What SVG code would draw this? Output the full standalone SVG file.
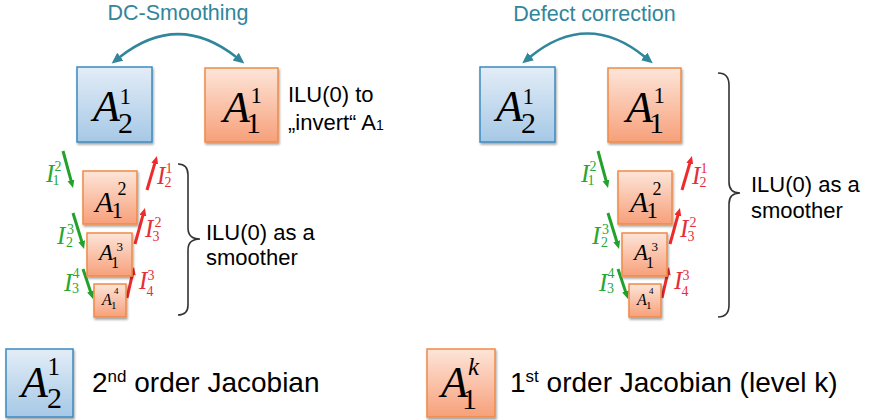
<svg xmlns="http://www.w3.org/2000/svg" width="869" height="420" viewBox="0 0 869 420">
<style>
.m{font-family:"Liberation Serif","Times New Roman",serif;fill:#000}
.i{font-style:italic}
.t{font-family:"Liberation Sans",Arial,sans-serif;fill:#000}
.teal{font-family:"Liberation Sans",Arial,sans-serif;fill:#31869b;font-size:21.5px}
.bb{fill:url(#gb);stroke:#3b8ac0;stroke-width:1.5;filter:url(#sh)}
.ob{fill:url(#go);stroke:#ef8a47;stroke-width:1.5;filter:url(#sh)}
.arc{fill:none;stroke:#31869b;stroke-width:2.5}
.ga{fill:none;stroke:#22a12b;stroke-width:3}
.ra{fill:none;stroke:#ee2a2a;stroke-width:3}
.brace{fill:none;stroke:#333;stroke-width:1.6}
.gl{fill:#2aa632}
.rl{fill:#e2303a}
</style>
<defs>
<linearGradient id="gb" x1="0" y1="0" x2="0" y2="1"><stop offset="0" stop-color="#e3edf7"/><stop offset="1" stop-color="#a6c8e6"/></linearGradient>
<linearGradient id="go" x1="0" y1="0" x2="0" y2="1"><stop offset="0" stop-color="#fde5d9"/><stop offset="1" stop-color="#f7a07a"/></linearGradient>
<filter id="sh" x="-20%" y="-20%" width="150%" height="150%"><feDropShadow dx="1" dy="2" stdDeviation="1.3" flood-color="#000" flood-opacity="0.35"/></filter>
<marker id="mt" markerUnits="userSpaceOnUse" markerWidth="12" markerHeight="11" refX="1" refY="5" orient="auto-start-reverse"><path d="M0,0 L11,5 L0,10 Z" fill="#31869b"/></marker>
<marker id="mg" markerUnits="userSpaceOnUse" markerWidth="9" markerHeight="8" refX="1" refY="3.5" orient="auto"><path d="M0,0 L8,3.5 L0,7 Z" fill="#22a12b"/></marker>
<marker id="mred" markerUnits="userSpaceOnUse" markerWidth="9" markerHeight="8" refX="1" refY="3.5" orient="auto"><path d="M0,0 L8,3.5 L0,7 Z" fill="#ee2a2a"/></marker>
</defs>
<rect width="869" height="420" fill="#fff"/>

<text class="teal" x="178" y="20" text-anchor="middle">DC-Smoothing</text>
<text class="teal" x="594.5" y="21" text-anchor="middle">Defect correction</text>

<g id="connectors">
<path class="arc" d="M119.5,57.3 Q178,11 236.5,57.3" marker-start="url(#mt)" marker-end="url(#mt)"/>
<path class="arc" d="M530,57 Q587.5,10 645,57" marker-start="url(#mt)" marker-end="url(#mt)"/>
<path class="ga" d="M63,151 L71.2,181.2" marker-end="url(#mg)"/>
<path class="ga" d="M73,213 L82,242.3" marker-end="url(#mg)"/>
<path class="ga" d="M83,269 L90.8,292.4" marker-end="url(#mg)"/>
<path class="ra" d="M147,190 L155,162.7" marker-end="url(#mred)"/>
<path class="ra" d="M135,244 L143.1,214.7" marker-end="url(#mred)"/>
<path class="ra" d="M127,298 L132.5,273.8" marker-end="url(#mred)"/>
<path class="ga" d="M598,151 L606.2,181.2" marker-end="url(#mg)"/>
<path class="ga" d="M608,213 L617,242.3" marker-end="url(#mg)"/>
<path class="ga" d="M618,269 L625.8,292.4" marker-end="url(#mg)"/>
<path class="ra" d="M682,190 L690,162.7" marker-end="url(#mred)"/>
<path class="ra" d="M670,244 L678.1,214.7" marker-end="url(#mred)"/>
<path class="ra" d="M662,298 L667.5,273.8" marker-end="url(#mred)"/>
</g>

<g id="transfer-labels">
<g id="labels-left">
<text class="m gl"><tspan class="i" x="46" y="182" font-size="25">I</tspan><tspan x="54.6" y="171" font-size="14">2</tspan><tspan x="52.5" y="185" font-size="14">1</tspan></text>
<text class="m gl"><tspan class="i" x="57" y="244" font-size="25">I</tspan><tspan x="67" y="234" font-size="14">3</tspan><tspan x="66" y="247" font-size="14">2</tspan></text>
<text class="m gl"><tspan class="i" x="64" y="291" font-size="25">I</tspan><tspan x="72.5" y="278" font-size="14">4</tspan><tspan x="72" y="293" font-size="14">3</tspan></text>
<text class="m rl"><tspan class="i" x="157" y="184" font-size="25">I</tspan><tspan x="165.5" y="173" font-size="14">1</tspan><tspan x="164.5" y="187" font-size="14">2</tspan></text>
<text class="m rl"><tspan class="i" x="145" y="237" font-size="25">I</tspan><tspan x="154.5" y="227" font-size="14">2</tspan><tspan x="152.5" y="241" font-size="14">3</tspan></text>
<text class="m rl"><tspan class="i" x="139" y="289" font-size="25">I</tspan><tspan x="147.5" y="280" font-size="14">3</tspan><tspan x="146.5" y="296" font-size="14">4</tspan></text>
</g>
<g id="labels-right" transform="translate(535,0)">
<text class="m gl"><tspan class="i" x="46" y="182" font-size="25">I</tspan><tspan x="54.6" y="171" font-size="14">2</tspan><tspan x="52.5" y="185" font-size="14">1</tspan></text>
<text class="m gl"><tspan class="i" x="57" y="244" font-size="25">I</tspan><tspan x="67" y="234" font-size="14">3</tspan><tspan x="66" y="247" font-size="14">2</tspan></text>
<text class="m gl"><tspan class="i" x="64" y="291" font-size="25">I</tspan><tspan x="72.5" y="278" font-size="14">4</tspan><tspan x="72" y="293" font-size="14">3</tspan></text>
<text class="m rl"><tspan class="i" x="157" y="184" font-size="25">I</tspan><tspan x="165.5" y="173" font-size="14">1</tspan><tspan x="164.5" y="187" font-size="14">2</tspan></text>
<text class="m rl"><tspan class="i" x="145" y="237" font-size="25">I</tspan><tspan x="154.5" y="227" font-size="14">2</tspan><tspan x="152.5" y="241" font-size="14">3</tspan></text>
<text class="m rl"><tspan class="i" x="139" y="289" font-size="25">I</tspan><tspan x="147.5" y="280" font-size="14">3</tspan><tspan x="146.5" y="296" font-size="14">4</tspan></text>
</g>
</g>

<g id="L-A2-1" transform="translate(77,67)">
<rect class="bb" width="75" height="75"/>
<text class="m"><tspan class="i" x="16" y="54" font-size="44">A</tspan><tspan x="41" y="66" font-size="30">2</tspan><tspan x="42.5" y="37" font-size="23">1</tspan></text>
</g>
<g id="L-A1-1" transform="translate(205,68)">
<rect class="ob" width="73" height="74"/>
<text class="m"><tspan class="i" x="18" y="54" font-size="44">A</tspan><tspan x="41" y="65" font-size="30">1</tspan><tspan x="45.5" y="35" font-size="23">1</tspan></text>
</g>
<g id="L-A1-2" transform="translate(83,171)">
<rect class="ob" width="54" height="53"/>
<text class="m"><tspan class="i" x="12" y="41" font-size="30">A</tspan><tspan x="28.5" y="47" font-size="23">1</tspan><tspan x="34.5" y="24" font-size="18">2</tspan></text>
</g>
<g id="L-A1-3" transform="translate(87,233)">
<rect class="ob" width="45" height="43"/>
<text class="m"><tspan class="i" x="12" y="27" font-size="23">A</tspan><tspan x="24" y="35" font-size="16">1</tspan><tspan x="29.5" y="18" font-size="13">3</tspan></text>
</g>
<g id="L-A1-4" transform="translate(94,284)">
<rect class="ob" width="32" height="33"/>
<text class="m"><tspan class="i" x="8" y="21" font-size="16">A</tspan><tspan x="17" y="25" font-size="11">1</tspan><tspan x="20" y="10" font-size="9">4</tspan></text>
</g>

<g id="R-A2-1" transform="translate(480,67)">
<rect class="bb" width="75" height="75"/>
<text class="m"><tspan class="i" x="16" y="54" font-size="44">A</tspan><tspan x="41" y="66" font-size="30">2</tspan><tspan x="42.5" y="37" font-size="23">1</tspan></text>
</g>
<g id="R-A1-1" transform="translate(608,68)">
<rect class="ob" width="73" height="74"/>
<text class="m"><tspan class="i" x="18" y="54" font-size="44">A</tspan><tspan x="41" y="65" font-size="30">1</tspan><tspan x="45.5" y="35" font-size="23">1</tspan></text>
</g>
<g id="R-A1-2" transform="translate(618,171)">
<rect class="ob" width="54" height="53"/>
<text class="m"><tspan class="i" x="12" y="41" font-size="30">A</tspan><tspan x="28.5" y="47" font-size="23">1</tspan><tspan x="34.5" y="24" font-size="18">2</tspan></text>
</g>
<g id="R-A1-3" transform="translate(622,233)">
<rect class="ob" width="45" height="43"/>
<text class="m"><tspan class="i" x="12" y="27" font-size="23">A</tspan><tspan x="24" y="35" font-size="16">1</tspan><tspan x="29.5" y="18" font-size="13">3</tspan></text>
</g>
<g id="R-A1-4" transform="translate(629,284)">
<rect class="ob" width="32" height="33"/>
<text class="m"><tspan class="i" x="8" y="21" font-size="16">A</tspan><tspan x="17" y="25" font-size="11">1</tspan><tspan x="20" y="10" font-size="9">4</tspan></text>
</g>

<g id="braces">
<path class="brace" d="M178,164 Q188,164 188,175 L188,228 Q188,239 200,239 Q188,239 188,250 L188,305 Q188,315 178,315"/>
<path class="brace" d="M718,73 Q729,73 729,85 L729,182 Q729,193 740,193 Q729,193 729,204 L729,305 Q729,317 718,317"/>
</g>

<g id="notes">
<text class="t" x="288" y="102" font-size="22">ILU(0) to</text>
<text class="t" x="288" y="130" font-size="22">„invert“ A<tspan font-size="14">1</tspan></text>
<text class="t" x="206" y="240" font-size="22">ILU(0) as a</text>
<text class="t" x="206" y="265" font-size="22">smoother</text>
<text class="t" x="751" y="192" font-size="22">ILU(0) as a</text>
<text class="t" x="751" y="218" font-size="22">smoother</text>
</g>

<g id="legend-A2" transform="translate(6,349)">
<rect class="bb" width="67" height="68"/>
<text class="m"><tspan class="i" x="15" y="48" font-size="44">A</tspan><tspan x="41" y="59" font-size="30">2</tspan><tspan x="41.5" y="26" font-size="25">1</tspan></text>
</g>
<text class="t" x="92" y="392" font-size="28">2<tspan font-size="17" dy="-10">nd</tspan><tspan dy="10"> order Jacobian</tspan></text>
<g id="legend-A1" transform="translate(427,349)">
<rect class="ob" width="68" height="68"/>
<text class="m"><tspan class="i" x="14" y="48" font-size="44">A</tspan><tspan x="35" y="60" font-size="30">1</tspan><tspan class="i" x="41" y="26" font-size="25">k</tspan></text>
</g>
<text class="t" x="510" y="392" font-size="28">1<tspan font-size="17" dy="-10">st</tspan><tspan dy="10"> order Jacobian (level k)</tspan></text>
</svg>
